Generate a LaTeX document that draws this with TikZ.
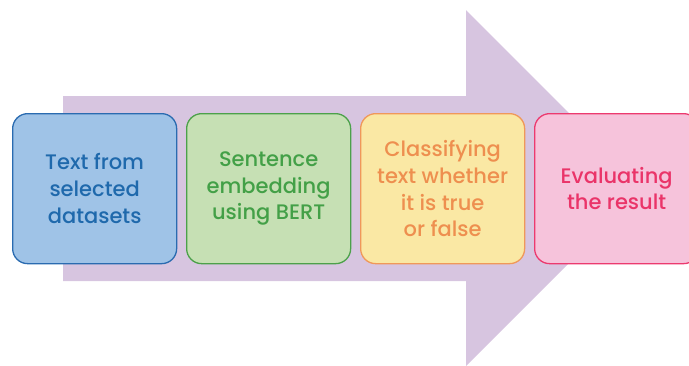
\documentclass[tikz,border=0pt]{standalone}
\usepackage{fontspec}
\setmainfont{Poppins}[UprightFont={* Medium}]
\definecolor{arrowfill}{HTML}{D7C5E0}
\definecolor{bluefill}{HTML}{9FC3E7}
\definecolor{blueline}{HTML}{2A6BB0}
\definecolor{bluetext}{HTML}{1F69AC}
\definecolor{greenfill}{HTML}{C6E0B4}
\definecolor{greenline}{HTML}{4CA14A}
\definecolor{greentext}{HTML}{43A047}
\definecolor{yellowfill}{HTML}{FAE8A4}
\definecolor{yellowline}{HTML}{F0985A}
\definecolor{yellowtext}{HTML}{EE8F4F}
\definecolor{pinkfill}{HTML}{F6C3DB}
\definecolor{pinkline}{HTML}{EC3A6F}
\definecolor{pinktext}{HTML}{EA3469}
\tikzset{
  stage/.style={rectangle, rounded corners=15pt, line width=1.3pt,
    minimum width=164pt, minimum height=150pt, inner sep=0pt,
    align=center, font=\fontsize{21}{26.7}\selectfont, anchor=north west},
}
\begin{document}
\begin{tikzpicture}[x=1pt,y=-1pt]
\useasboundingbox (0,0) rectangle (689,365);
\clip (0,0) rectangle (689,365);
% big process arrow behind the stages
\fill[arrowfill] (63,96) -- (466,96) -- (466,10) -- (644,188)
  -- (466,366) -- (466,281) -- (63,281) -- cycle;
% stages
\node[stage, fill=bluefill, draw=blueline, text=bluetext] (s1) at (12,113)
  {Text from\\selected\\datasets};
\node[stage, fill=greenfill, draw=greenline, text=greentext] (s2) at (186,113)
  {Sentence\\embedding\\using BERT};
\node[stage, fill=yellowfill, draw=yellowline, text=yellowtext] (s3) at (360,113)
  {Classifying\\text whether\\it is true\\or false};
\node[stage, fill=pinkfill, draw=pinkline, text=pinktext] (s4) at (534,113)
  {Evaluating\\the result};
\end{tikzpicture}
\end{document}
